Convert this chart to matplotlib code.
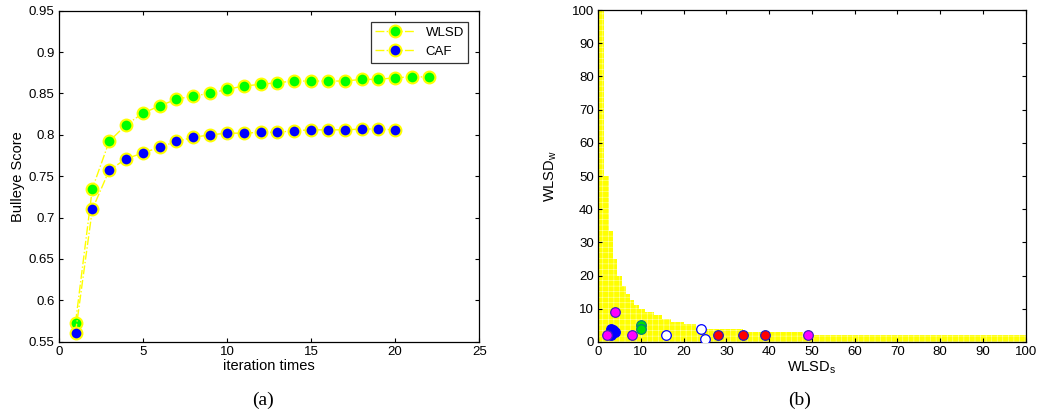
import numpy as np
import matplotlib
matplotlib.use('Agg')
import matplotlib.pyplot as plt

plt.rcParams['font.family'] = ['Liberation Sans', 'DejaVu Sans']
plt.rcParams['hatch.linewidth'] = 0.4

# ── panel (a): bulleye score vs iteration ─────────────────────────────────────
wlsd_iter  = np.arange(1, 23)
wlsd_score = [0.573, 0.735, 0.792, 0.812, 0.826, 0.835, 0.843, 0.847, 0.850, 0.855,
              0.859, 0.861, 0.863, 0.865, 0.865, 0.865, 0.865, 0.867, 0.867, 0.869,
              0.870, 0.870]
caf_iter   = np.arange(1, 21)
caf_score  = [0.561, 0.710, 0.757, 0.771, 0.778, 0.785, 0.792, 0.797, 0.800, 0.802,
              0.802, 0.803, 0.803, 0.805, 0.806, 0.806, 0.806, 0.807, 0.807, 0.806]

# ── panel (b): feasible region (step boundary) and parameter points ───────────
region_x = [0, 1.5, 2.5, 3.5, 4.5, 5.5, 6.5, 7.5, 8.5, 9.5, 11, 13, 15, 17, 20, 23, 34, 48, 100]
region_y = [100, 50, 33.5, 25, 20, 17, 14.5, 12.5, 11, 10, 9, 8, 7, 6, 5.5, 4, 3, 2, 2]

magenta_x = [2, 4, 8, 49]
magenta_y = [2, 9, 2, 2]
blue_x    = [2.8, 3, 3, 3.5, 4]
blue_y    = [2.5, 4, 2, 3.5, 3]
green_x   = [10, 10]
green_y   = [5, 4]
white_x   = [16, 24, 25]
white_y   = [2, 4, 1]
red_x     = [28, 34, 39]
red_y     = [2, 2, 2]

fig = plt.figure(figsize=(10.37, 4.16), dpi=100)
fig.patch.set_facecolor('white')

def matlab_axes(ax):
    ax.tick_params(direction='in', top=True, right=True, length=3, width=0.8,
                   labelsize=9.5, colors='black', pad=3)
    for sp in ax.spines.values():
        sp.set_linewidth(0.9)
        sp.set_color('black')

# ── (a) ───────────────────────────────────────────────────────────────────────
ax = fig.add_axes([0.0566, 0.1786, 0.4056, 0.7957])
ax.plot(wlsd_iter, wlsd_score, linestyle='-.', color='#ffff00', lw=1.0,
        marker='o', markersize=8.5, markerfacecolor='#00ff00',
        markeredgecolor='#ffff00', markeredgewidth=1.5, label='WLSD')
ax.plot(caf_iter, caf_score, linestyle='-.', color='#ffff00', lw=1.0,
        marker='o', markersize=8.5, markerfacecolor='#0000ff',
        markeredgecolor='#ffff00', markeredgewidth=1.5, label='CAF')
ax.set_xlim(0, 25)
ax.set_ylim(0.55, 0.95)
ax.set_xticks([0, 5, 10, 15, 20, 25])
ax.set_yticks(np.arange(0.55, 0.951, 0.05))
ax.set_yticklabels(['0.55', '0.6', '0.65', '0.7', '0.75', '0.8', '0.85', '0.9', '0.95'])
ax.set_xlabel('iteration times', fontsize=10.5, labelpad=1)
ax.set_ylabel('Bulleye Score', fontsize=10.5, labelpad=3)
matlab_axes(ax)
leg = ax.legend(loc='upper right', fontsize=9.5, frameon=True, fancybox=False,
                borderpad=0.35, handlelength=3.0, labelspacing=0.5,
                bbox_to_anchor=(0.99, 0.985))
leg.get_frame().set_edgecolor('black')
leg.get_frame().set_linewidth(0.9)

fig.text(0.2535, 0.038, '(a)', ha='center', va='center', fontsize=14,
         family='Liberation Serif')

# ── (b) ───────────────────────────────────────────────────────────────────────
ax2 = fig.add_axes([0.5767, 0.1779, 0.4124, 0.7980])
ax2.fill_between(region_x, 0, region_y, step='post', facecolor='#ffff00',
                 edgecolor='#ffffa0', hatch='+++', linewidth=0, zorder=1)

pt = dict(s=48, linewidths=0.9, zorder=3)
ax2.scatter(blue_x, blue_y, c='#0000ff', edgecolors='#0000ff', **pt)
ax2.scatter(magenta_x, magenta_y, c='#ff00ff', edgecolors='#4020c0', **pt)
ax2.scatter(green_x, green_y, c='#00e000', edgecolors='#008080', **pt)
ax2.scatter(white_x, white_y, c='white', edgecolors='#0000ff', **pt)
ax2.scatter(red_x, red_y, c='#ff0000', edgecolors='#2020c0', **pt)

ax2.set_xlim(0, 100)
ax2.set_ylim(0, 100)
ax2.set_xticks(np.arange(0, 101, 10))
ax2.set_yticks(np.arange(0, 101, 10))
ax2.set_xlabel(r'WLSD$_\mathregular{s}$', fontsize=10.5, labelpad=1)
ax2.set_ylabel(r'WLSD$_\mathregular{w}$', fontsize=10.5, labelpad=9)
matlab_axes(ax2)

fig.text(0.7715, 0.038, '(b)', ha='center', va='center', fontsize=14,
         family='Liberation Serif')

plt.savefig('out.png', dpi=100, facecolor='white')
plt.close()
